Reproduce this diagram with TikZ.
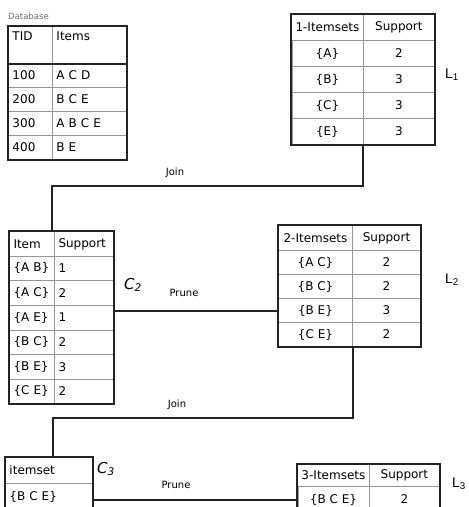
\documentclass[tikz,border=0pt]{standalone}
\usepackage{fontspec}
\setmainfont{DejaVu Sans}
\newfontfamily\labelfont{Liberation Sans}
\usetikzlibrary{matrix, positioning, calc}

\definecolor{GridGray}{RGB}{150,150,150}
\definecolor{CaptionGray}{RGB}{110,110,110}
\definecolor{LineDark}{RGB}{35,35,35}

\begin{document}
\begin{tikzpicture}[
  x=1pt, y=-1pt,
  cell/.style={draw=GridGray, line width=0.6pt, minimum height=24pt,
               inner xsep=4pt, inner ysep=2pt, anchor=center,
               font=\fontsize{12}{14}\selectfont},
  tbl/.style={matrix of nodes, inner sep=0pt, row sep=-0.6pt,
              column sep=-0.6pt, nodes={cell}, anchor=north west},
  frame/.style={draw=LineDark, line width=1.8pt},
  wl/.style={text width=#1, align=left},
  wc/.style={minimum width=#1},
  link/.style={draw=LineDark, line width=2pt},
  tag/.style={font=\fontsize{10}{12}\selectfont},
  setlabel/.style={font=\labelfont\fontsize{14}{16}\selectfont},
  candlabel/.style={font=\itshape\fontsize{15}{17}\selectfont},
]
\clip (0,0) rectangle (469,507);
\fill[white] (0,0) rectangle (469,507);

% Database
\node[anchor=west, inner sep=0pt, text=CaptionGray,
      font=\fontsize{8.5}{10}\selectfont] (dbcap) at (8,16) {Database};
\matrix (db) [tbl, at={(8,26)},
  column 1/.style={nodes={wl=36pt}},
  column 2/.style={nodes={wl=66pt}},
  row 1/.style={nodes={minimum height=37pt, text height=12pt, text depth=21pt}}] {
  TID & Items \\
  100 & A C D \\
  200 & B C E \\
  300 & A B C E \\
  400 & B E \\
};
\draw[frame] (db-1-1.north west) rectangle (db-5-2.south east);
\draw[frame] (db-1-1.south west) -- (db-1-2.south east);

% L1
\matrix (l1) [tbl, at={(291,14)},
  column 1/.style={nodes={wc=71pt}},
  column 2/.style={nodes={wc=71pt}},
  nodes={minimum height=26pt}] {
  1-Itemsets & Support \\
  \{A\} & 2 \\
  \{B\} & 3 \\
  \{C\} & 3 \\
  \{E\} & 3 \\
};
\draw[frame] (l1-1-1.north west) rectangle (l1-5-2.south east);
\node[setlabel] (lab1) at (452,75) {L\textsubscript{1}};

% C2
\matrix (c2) [tbl, at={(9,231)},
  column 1/.style={nodes={wl=37pt}},
  column 2/.style={nodes={wl=51pt}},
  nodes={minimum height=24.6pt}] {
  Item & Support \\
  \{A B\} & 1 \\
  \{A C\} & 2 \\
  \{A E\} & 1 \\
  \{B C\} & 2 \\
  \{B E\} & 3 \\
  \{C E\} & 2 \\
};
\draw[frame] (c2-1-1.north west) rectangle (c2-7-2.south east);
\node[candlabel] (lab2) at (133,285) {C\textsubscript{2}};

% L2
\matrix (l2) [tbl, at={(278,225)},
  column 1/.style={nodes={wc=74pt}},
  column 2/.style={nodes={wc=68pt}},
  row 1/.style={nodes={minimum height=25pt}}] {
  2-Itemsets & Support \\
  \{A C\} & 2 \\
  \{B C\} & 2 \\
  \{B E\} & 3 \\
  \{C E\} & 2 \\
};
\draw[frame] (l2-1-1.north west) rectangle (l2-5-2.south east);
\node[setlabel] (lab3) at (452,280) {L\textsubscript{2}};

% C3
\matrix (c3) [tbl, at={(5,457)},
  column 1/.style={nodes={wl=79pt}},
  nodes={minimum height=26pt}] {
  itemset \\
  \{B C E\} \\
};
\draw[frame] (c3-1-1.north west) rectangle (c3-2-1.south east);
\node[candlabel] (lab4) at (106,469) {C\textsubscript{3}};

% L3
\matrix (l3) [tbl, at={(297,464)},
  column 1/.style={nodes={wc=71pt}},
  column 2/.style={nodes={wc=70pt}},
  row 1/.style={nodes={minimum height=22pt}},
  row 2/.style={nodes={minimum height=26pt}}] {
  3-Itemsets & Support \\
  \{B C E\} & 2 \\
};
\draw[frame] (l3-1-1.north west) rectangle (l3-2-2.south east);
\node[setlabel] (lab5) at (459,484) {L\textsubscript{3}};

% join / prune steps
\coordinate (bend1) at (52,186);
\draw[link] (l1-5-1.south east) |- (bend1) -- (bend1 |- c2.north);
\node[tag] (join1) at (175,173) {Join};

\draw[link] (c2.east |- l2-4-1.west) -- (l2-4-1.west);
\node[tag] (prune1) at (184,293) {Prune};

\coordinate (bend2) at (53,418);
\draw[link] (l2-5-1.south east) |- (bend2) -- (bend2 |- c3.north);
\node[tag] (join2) at (177,405) {Join};

\draw[link] (c3.east |- l3-2-1.west) -- (l3-2-1.west);
\node[tag] (prune2) at (176,485) {Prune};

\end{tikzpicture}
\end{document}
